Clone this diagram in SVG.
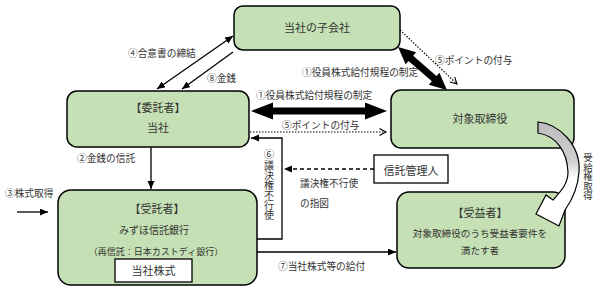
<svg xmlns="http://www.w3.org/2000/svg" width="598" height="290" viewBox="0 0 598 290">
<style>
text{font-family:"Noto Sans CJK JP","Noto Sans",sans-serif;fill:#333;}
.node{fill:#c5e0b4;stroke:#000;stroke-width:1.5;}
.box{fill:#fff;stroke:#000;stroke-width:1.3;}
.t11{font-size:11px;text-anchor:middle;}
.t10{font-size:10px;text-anchor:middle;}
.lb{font-size:9.7px;}
.ln{fill:none;stroke:#000;stroke-width:1.3;}
.dot{fill:none;stroke:#000;stroke-width:1.2;stroke-dasharray:1.5 1.5;}
.vt{writing-mode:vertical-rl;text-orientation:upright;}
</style>
<defs>
<marker id="ah" markerUnits="userSpaceOnUse" markerWidth="9" markerHeight="8" refX="8" refY="3.5" orient="auto-start-reverse"><path d="M0,0 L8,3.5 L0,7 z" fill="#000"/></marker>
<marker id="ch" markerUnits="userSpaceOnUse" markerWidth="10" markerHeight="10" refX="7" refY="4" orient="auto"><path d="M0.5,0.5 L7,4 L0.5,7.5" fill="none" stroke="#000" stroke-width="1.1"/></marker>
<linearGradient id="gr" gradientUnits="userSpaceOnUse" x1="0" y1="122" x2="0" y2="215"><stop offset="0" stop-color="#bdbdbd"/><stop offset="0.42" stop-color="#cfcfcf"/><stop offset="0.6" stop-color="#fff"/><stop offset="1" stop-color="#fff"/></linearGradient>
</defs>

<g id="connectors">
<line class="ln" x1="157" y1="89" x2="233" y2="36" marker-start="url(#ah)" marker-end="url(#ah)"/>
<line class="ln" x1="233" y1="52" x2="182" y2="89" marker-end="url(#ah)"/>
<polygon points="251,111 273,102.5 273,107.5 365,107.5 365,102.5 387,111 365,119.5 365,114.5 273,114.5 273,119.5" fill="#000"/>
<polygon transform="translate(422.5,68.5) rotate(41.3)" points="-32.5,0 -15.5,-8 -15.5,-3.5 15.5,-3.5 15.5,-8 32.5,0 15.5,8 15.5,3.5 -15.5,3.5 -15.5,8" fill="#000"/>
<line class="dot" x1="250" y1="132" x2="386" y2="132" marker-end="url(#ch)"/>
<line class="dot" x1="400" y1="30" x2="457" y2="84" stroke-width="0.9" marker-end="url(#ch)"/>
<polyline class="ln" points="257,239 282,239 282,138 251,138" marker-end="url(#ah)"/>
<line x1="374" y1="169" x2="284" y2="169" stroke="#000" stroke-width="1.4" stroke-dasharray="4 3" marker-end="url(#ah)"/>
<line class="ln" x1="151" y1="147" x2="151" y2="189" marker-end="url(#ah)"/>
<line class="ln" x1="17" y1="212" x2="48" y2="212" marker-end="url(#ah)"/>
<line class="ln" x1="257" y1="252" x2="396" y2="252" marker-end="url(#ah)"/>
<text class="lb" x="128" y="57">④合意書の締結</text>
<text class="lb" x="207" y="82">⑧金銭</text>
<text class="lb" x="256" y="99">①役員株式給付規程の制定</text>
<text class="lb" x="282" y="129">⑤ポイントの付与</text>
<text class="lb" x="302" y="76">①役員株式給付規程の制定</text>
<text class="lb" x="435" y="64">⑤ポイントの付与</text>
<text class="lb" x="77" y="162">②金銭の信託</text>
<text class="lb" x="5" y="197">③株式取得</text>
<text class="lb" x="278" y="270">⑦当社株式等の給付</text>
<text class="lb" x="300" y="187">議決権不行使</text>
<text class="lb" x="300" y="207">の指図</text>
<text class="vt" x="269" y="149" style="font-size:10px">⑥</text>
<text class="vt" x="269" y="160" style="font-size:10px">議決権不行使</text>
</g>

<g id="node-kogaisha">
<rect class="node" x="234" y="6" width="166" height="44" rx="9"/>
<text class="t11" x="317" y="32">当社の子会社</text>
</g>
<g id="node-itakusha">
<rect class="node" x="67" y="91" width="182" height="56" rx="10"/>
<text class="t11" x="158" y="112">【委託者】</text>
<text class="t11" x="158" y="132">当社</text>
</g>
<g id="node-torishimariyaku">
<rect class="node" x="391" y="90" width="183" height="58" rx="10"/>
<text class="t11" x="480" y="123">対象取締役</text>
</g>
<g id="node-jutakusha">
<rect class="node" x="58" y="190" width="199" height="95" rx="13"/>
<text class="t11" x="157" y="213">【受託者】</text>
<text class="t10" x="154" y="234">みずほ信託銀行</text>
<text x="156" y="255" style="font-size:9px;text-anchor:middle">（再信託：日本カストディ銀行）</text>
<rect class="box" x="115" y="259" width="77" height="23"/>
<text class="t11" x="153.5" y="275">当社株式</text>
</g>
<g id="node-kanrinin">
<rect class="box" x="374" y="155" width="74" height="28"/>
<text class="t11" x="411" y="175">信託管理人</text>
</g>
<g id="node-juekisha">
<rect class="node" x="397" y="192" width="168" height="76" rx="12"/>
<text class="t11" x="480" y="217">【受益者】</text>
<text x="480" y="237" style="font-size:9.6px;text-anchor:middle">対象取締役のうち受益者要件を</text>
<text x="480" y="254" style="font-size:9.6px;text-anchor:middle">満たす者</text>
</g>

<g id="curved-arrow">
<path d="M538,122 C560,124 581,146 579,172 C578,188 572,200 565,210 L559,226 L536,214 L546,195 L553,200 C561,191 568,184 568,172 C567,152 557,136 538,133 Z" fill="url(#gr)" stroke="#000" stroke-width="1.2"/>
<text class="vt" x="588" y="153" style="font-size:9.5px">受給権取得</text>
</g>
</svg>
